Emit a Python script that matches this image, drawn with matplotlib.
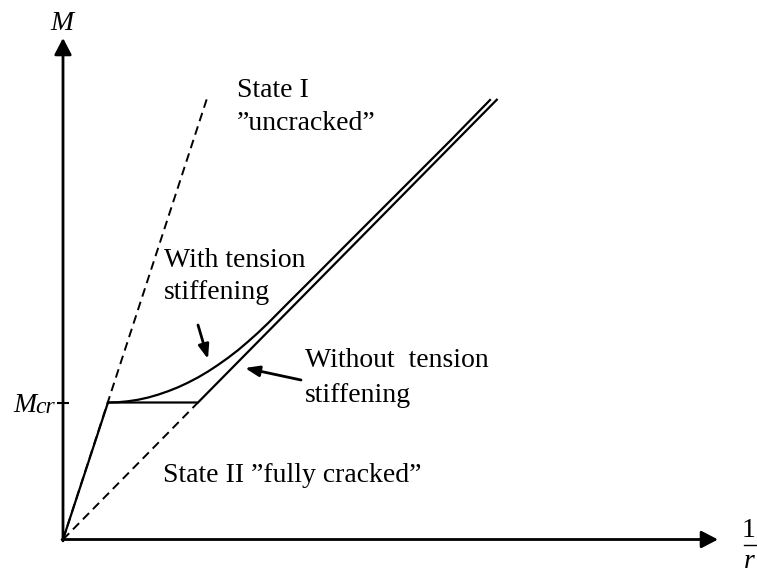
import matplotlib
matplotlib.use("Agg")
import matplotlib.pyplot as plt

plt.rcParams['font.family'] = ['Liberation Serif', 'DejaVu Serif']

# ---- data (curvature 1/r, moment M), normalised so that M_cr = 1 ----
Mcr = 1.0
kappa_cr_I = 1.0           # curvature at cracking, state I
kappa_cr_II = 3.0          # curvature at M_cr, state II

state1_kappa = [0.0, 3.22]
state1_M = [0.0, 3.24]

state2_dash_kappa = [0.0, kappa_cr_II]
state2_dash_M = [0.0, Mcr]

without_ts_kappa = [0.0, kappa_cr_I, kappa_cr_II, 9.64]
without_ts_M = [0.0, Mcr, Mcr, 3.21]

with_ts_kappa = [1.000, 1.222, 1.444, 1.667, 1.889, 2.111, 2.333, 2.556,
                 2.778, 3.000, 3.222, 3.444, 3.667, 3.889, 4.111, 4.333,
                 4.556, 5.000, 5.489, 6.378, 7.489, 8.600, 9.489]
with_ts_M = [1.000, 1.002, 1.009, 1.020, 1.036, 1.057, 1.082, 1.111,
             1.145, 1.183, 1.226, 1.274, 1.326, 1.382, 1.444, 1.509,
             1.579, 1.726, 1.886, 2.179, 2.544, 2.909, 3.208]

# ---- figure / pixel mapping ----
W, H = 757, 575
X0, Y0 = 63, 539.5        # origin in pixels
SX, SY = 45.0, 137.0      # pixels per unit

fig = plt.figure(figsize=(W / 100, H / 100), dpi=100)
ax = fig.add_axes([0, 0, 1, 1])
ax.set_xlim(-X0 / SX, (W - X0) / SX)
ax.set_ylim(-(H - Y0) / SY, Y0 / SY)


def P(px, py):
    return ((px - X0) / SX, (Y0 - py) / SY)


for s in ax.spines.values():
    s.set_visible(False)
ax.spines['left'].set_position(('data', 0))
ax.set_xticks([])
ax.set_yticks([Mcr])
ax.set_yticklabels([''])
ax.tick_params(axis='y', direction='inout', length=8, width=1.5)
ax.patch.set_alpha(0)

# axes with arrow heads
axis_arrow = dict(arrowstyle='-|>,head_length=1.0,head_width=0.52', lw=2,
                  color='k', shrinkA=0, shrinkB=0, mutation_scale=10)
ax.annotate('', xy=P(63, 38), xytext=(0, -0.01), arrowprops=axis_arrow)
ax.annotate('', xy=P(718, 539.5), xytext=(-0.02, 0), arrowprops=axis_arrow)

# curves
ax.plot(state1_kappa, state1_M, color='k', lw=1.4, linestyle=(0, (4.5, 2.8)))
ax.plot(state2_dash_kappa, state2_dash_M, color='k', lw=1.4,
        linestyle=(0, (4.5, 2.8)))
ax.plot(without_ts_kappa, without_ts_M, color='k', lw=1.6,
        solid_joinstyle='miter')
ax.plot(with_ts_kappa, with_ts_M, color='k', lw=1.6)

# labels
fs = 20
ax.text(*P(61.5, 30), 'M', fontsize=fs, style='italic', ha='center',
        va='baseline')
ax.text(*P(13, 412), 'M', fontsize=fs, style='italic', ha='left',
        va='baseline')
ax.text(*P(35, 413), 'cr', fontsize=17, style='italic', ha='left',
        va='baseline')
ax.text(*P(749, 537), '1', fontsize=fs, ha='center', va='baseline')
ax.plot([P(744, 545)[0], P(765, 545)[0]], [P(744, 545)[1]] * 2, color='k',
        lw=1.0, clip_on=False)
ax.text(*P(749, 568), 'r', fontsize=fs, style='italic', ha='center',
        va='baseline')

ax.text(*P(237, 97), 'State I', fontsize=fs, va='baseline')
ax.text(*P(237, 130), '\u201duncracked\u201d', fontsize=fs, va='baseline')
ax.text(*P(164, 267), 'With tension', fontsize=fs, va='baseline')
ax.text(*P(164, 299), 'stiffening', fontsize=fs, va='baseline')
ax.text(*P(305, 367), 'Without  tension', fontsize=fs, va='baseline')
ax.text(*P(305, 402), 'stiffening', fontsize=fs, va='baseline')
ax.text(*P(163, 482), 'State II \u201dfully cracked\u201d', fontsize=fs,
        va='baseline')

lab_arrow = dict(arrowstyle='-|>,head_length=0.85,head_width=0.32', lw=2,
                 color='k', shrinkA=0, shrinkB=0, mutation_scale=10)
ax.annotate('', xy=P(208, 359), xytext=P(198, 325), arrowprops=lab_arrow)
ax.annotate('', xy=P(245, 368), xytext=P(301, 380), arrowprops=lab_arrow)

fig.savefig('out.png', dpi=100)
